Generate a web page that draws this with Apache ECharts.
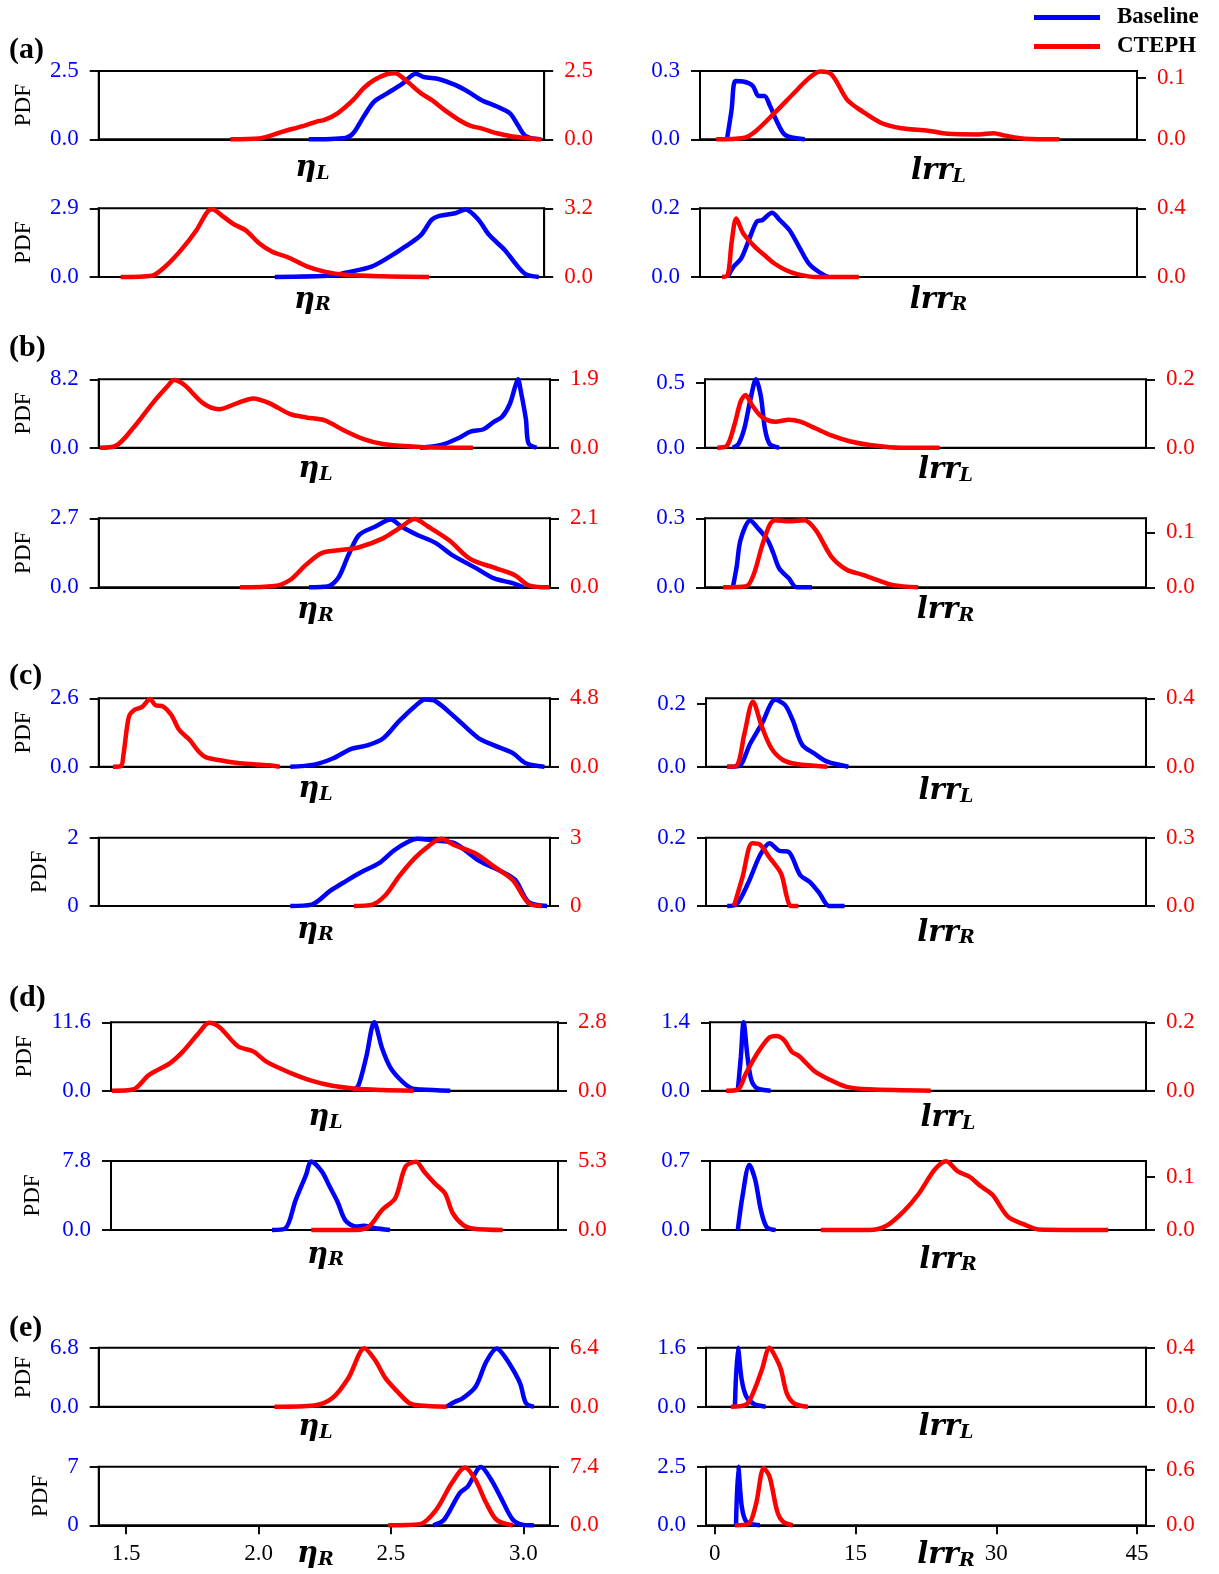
<!DOCTYPE html>
<html><head><meta charset="utf-8">
<script src="https://cdn.jsdelivr.net/npm/echarts@6/dist/echarts.min.js"></script>
<style>html,body{margin:0;padding:0;background:#fff}#chart{width:1219px;height:1574px}</style>
</head><body><div id="chart"></div>
<script>
// ---------------- DATA ----------------
const groupLabels = ['(a)', '(b)', '(c)', '(d)', '(e)'];
const seriesNames = ['Baseline', 'CTEPH'];
const etaTicks = [1.5, 2.0, 2.5, 3.0];
const lrrTicks = [0, 15, 30, 45];
const etaRange = [1.396, 3.101];
const lrrRange = [-0.94, 45.95];

// group (a)
const etaL_a_base = [[2.20,0],[2.34,0.05],[2.37,0.22],[2.41,0.83],[2.45,1.38],[2.50,1.68],[2.56,2.05],[2.61,2.4],[2.64,2.28],[2.70,2.2],[2.76,1.99],[2.81,1.74],[2.86,1.44],[2.92,1.2],[2.97,0.95],[3.00,0.52],[3.03,0.12],[3.08,0]];
const etaL_a_cteph = [[1.90,0],[2.01,0.03],[2.10,0.28],[2.19,0.52],[2.23,0.65],[2.26,0.71],[2.31,0.95],[2.37,1.44],[2.41,1.87],[2.45,2.17],[2.50,2.39],[2.53,2.42],[2.57,2.17],[2.63,1.68],[2.67,1.44],[2.72,1.07],[2.78,0.68],[2.82,0.49],[2.86,0.40],[2.92,0.22],[2.98,0.10],[3.04,0.04],[3.09,0]];
const etaR_a_base = [[2.07,0],[2.29,0.06],[2.34,0.18],[2.44,0.44],[2.51,0.86],[2.57,1.29],[2.63,1.78],[2.67,2.41],[2.70,2.58],[2.76,2.69],[2.80,2.85],[2.85,2.41],[2.89,1.78],[2.95,1.14],[2.99,0.58],[3.03,0.12],[3.08,0]];
const etaR_a_cteph = [[1.48,0],[1.60,0.06],[1.65,0.48],[1.71,1.24],[1.77,2.18],[1.81,3.0],[1.83,3.15],[1.87,2.84],[1.91,2.48],[1.96,2.16],[2.01,1.57],[2.06,1.18],[2.12,0.92],[2.19,0.51],[2.26,0.25],[2.34,0.10],[2.48,0.03],[2.66,0]];
const lrrL_a_base = [[1.95,0],[2.45,0.13],[2.86,0.256],[3.69,0.254],[4.72,0.235],[5.35,0.19],[5.97,0.19],[6.59,0.145],[7.41,0.07],[8.24,0.018],[10.3,0]];
const lrrL_a_cteph = [[0.8,0],[3.69,0.002],[4.93,0.012],[7.0,0.042],[9.07,0.074],[10.72,0.099],[11.96,0.11],[13.2,0.105],[14.86,0.064],[16.51,0.045],[18.58,0.026],[20.65,0.018],[23.54,0.014],[25.61,0.009],[28.92,0.008],[30.57,0.01],[31.81,0.006],[33.88,0.001],[37.6,0]];
const lrrR_a_base = [[2.04,0],[2.66,0.03],[3.48,0.054],[4.31,0.108],[5.14,0.161],[5.76,0.166],[6.79,0.187],[7.62,0.166],[8.65,0.137],[9.69,0.088],[10.72,0.04],[11.75,0.016],[12.79,0]];
const lrrR_a_cteph = [[1.42,0],[2.04,0.012],[2.45,0.2],[2.95,0.34],[3.69,0.255],[4.93,0.177],[6.17,0.118],[7.0,0.08],[8.24,0.041],[9.48,0.017],[11.55,0],[16.1,0]];
// group (b)
const etaL_b_base = [[2.61,0],[2.69,0.33],[2.76,1.23],[2.80,1.92],[2.85,2.21],[2.89,3.12],[2.92,3.7],[2.95,5.3],[2.97,7.4],[2.98,8.2],[2.99,6.9],[3.01,3.4],[3.02,0.5],[3.05,0]];
const etaL_b_cteph = [[1.40,0],[1.46,0.05],[1.53,0.58],[1.60,1.24],[1.66,1.74],[1.68,1.88],[1.72,1.74],[1.79,1.24],[1.85,1.07],[1.92,1.24],[1.98,1.37],[2.04,1.24],[2.12,0.93],[2.18,0.84],[2.25,0.76],[2.32,0.49],[2.40,0.23],[2.47,0.10],[2.61,0.02],[2.81,0]];
const etaR_b_base = [[2.19,0],[2.26,0.03],[2.30,0.35],[2.34,1.27],[2.38,2.05],[2.44,2.37],[2.50,2.65],[2.54,2.37],[2.60,2.05],[2.67,1.73],[2.73,1.27],[2.82,0.76],[2.89,0.35],[2.96,0.16],[3.00,0]];
const etaR_b_cteph = [[1.93,0],[2.06,0.04],[2.12,0.23],[2.18,0.69],[2.24,1.05],[2.32,1.14],[2.38,1.22],[2.47,1.49],[2.53,1.79],[2.59,2.08],[2.64,1.85],[2.72,1.43],[2.80,0.86],[2.90,0.57],[2.97,0.36],[3.02,0.06],[3.10,0]];
const lrrL_b_base = [[2.02,0],[2.63,0.03],[3.25,0.15],[3.86,0.36],[4.48,0.526],[5.01,0.39],[5.42,0.15],[5.92,0.03],[6.94,0]];
const lrrL_b_cteph = [[0.37,0],[1.4,0.006],[2.22,0.07],[2.84,0.134],[3.37,0.154],[4.07,0.124],[5.1,0.09],[6.53,0.076],[7.97,0.082],[9.2,0.076],[10.84,0.056],[12.49,0.036],[14.54,0.018],[16.59,0.008],[19.88,0],[24.0,0]];
const lrrR_b_base = [[2.02,0],[2.43,0.09],[2.84,0.206],[3.86,0.29],[4.69,0.257],[5.71,0.206],[6.33,0.148],[6.94,0.083],[7.97,0.039],[8.79,0],[10.43,0]];
const lrrR_b_cteph = [[0.99,0],[3.45,0.002],[4.27,0.025],[5.1,0.074],[5.92,0.113],[6.53,0.122],[7.97,0.12],[9.61,0.122],[10.84,0.104],[12.49,0.056],[14.13,0.032],[15.77,0.023],[17.41,0.013],[19.06,0.004],[21.72,0]];
// group (c)
const etaL_c_base = [[2.12,0],[2.21,0.08],[2.28,0.31],[2.35,0.68],[2.41,0.81],[2.47,1.07],[2.53,1.72],[2.59,2.29],[2.63,2.55],[2.67,2.48],[2.74,1.9],[2.83,1.09],[2.89,0.81],[2.96,0.52],[3.01,0.13],[3.08,0]];
const etaL_c_cteph = [[1.45,0],[1.48,0.05],[1.49,0.9],[1.51,3.5],[1.53,3.98],[1.56,4.2],[1.59,4.75],[1.61,4.32],[1.64,4.22],[1.67,3.65],[1.70,2.59],[1.74,1.87],[1.77,1.15],[1.80,0.67],[1.86,0.43],[1.93,0.24],[2.04,0.1],[2.08,0]];
const etaR_c_base = [[2.12,0],[2.20,0.04],[2.27,0.44],[2.32,0.68],[2.38,0.96],[2.46,1.28],[2.51,1.62],[2.56,1.86],[2.60,1.97],[2.66,1.92],[2.74,1.84],[2.83,1.34],[2.92,1.0],[2.97,0.76],[3.02,0.12],[3.09,0]];
const etaR_c_cteph = [[2.36,0],[2.43,0.06],[2.48,0.48],[2.53,1.29],[2.59,2.1],[2.64,2.61],[2.69,2.95],[2.74,2.67],[2.82,2.31],[2.89,1.73],[2.96,1.14],[3.02,0.12],[3.07,0]];
const lrrL_c_base = [[1.32,0],[2.55,0.002],[3.78,0.074],[5.01,0.137],[6.44,0.213],[7.47,0.197],[8.29,0.149],[9.31,0.07],[10.55,0.043],[11.98,0.016],[14.24,0]];
const lrrL_c_cteph = [[1.32,0],[2.34,0.007],[3.16,0.195],[4.06,0.38],[5.01,0.234],[6.03,0.107],[7.26,0.039],[8.7,0.016],[11.98,0]];
const lrrR_c_base = [[1.32,0],[2.34,0.006],[3.57,0.068],[4.8,0.148],[5.83,0.184],[6.85,0.162],[7.88,0.158],[9.11,0.09],[10.14,0.07],[11.16,0.037],[12.19,0],[13.83,0]];
const lrrR_c_cteph = [[2.05,0],[2.96,0.128],[3.98,0.276],[4.8,0.27],[5.83,0.213],[7.06,0.142],[7.67,0.041],[8.08,0],[8.9,0]];
// group (d)
const etaL_d_base = [[2.32,0],[2.34,0.93],[2.37,5.8],[2.40,11.6],[2.43,7.19],[2.46,4.06],[2.50,1.86],[2.54,0.46],[2.58,0.2],[2.69,0]];
const etaL_d_cteph = [[1.40,0],[1.48,0.05],[1.54,0.64],[1.62,1.12],[1.67,1.6],[1.73,2.35],[1.77,2.78],[1.81,2.6],[1.88,1.82],[1.94,1.6],[1.99,1.18],[2.08,0.73],[2.16,0.41],[2.24,0.2],[2.33,0.08],[2.43,0.03],[2.55,0]];
const etaR_d_base = [[2.01,0],[2.06,0.15],[2.10,3.35],[2.14,6.24],[2.16,7.75],[2.20,6.63],[2.23,4.91],[2.26,3.2],[2.29,1.09],[2.33,0.39],[2.36,0.47],[2.40,0.23],[2.46,0]];
const etaR_d_cteph = [[2.16,0],[2.33,0],[2.38,0.27],[2.43,1.54],[2.48,2.44],[2.52,4.88],[2.56,5.25],[2.59,4.5],[2.63,3.6],[2.67,2.81],[2.70,1.27],[2.74,0.37],[2.78,0.1],[2.89,0]];
const lrrL_d_base = [[2.05,0],[2.38,0.7],[2.67,1.4],[3.09,0.7],[3.5,0.22],[4.12,0.05],[5.58,0]];
const lrrL_d_cteph = [[0.8,0],[2.05,0.003],[2.88,0.048],[4.12,0.108],[5.37,0.154],[6.2,0.16],[7.03,0.148],[7.86,0.114],[8.69,0.1],[10.35,0.056],[12.01,0.031],[13.67,0.012],[16.16,0.004],[22.8,0]];
const lrrR_d_base = [[2.05,0],[2.55,0.34],[3.29,0.66],[3.92,0.51],[4.54,0.2],[5.16,0.03],[6.11,0]];
const lrrR_d_cteph = [[10.97,0],[16.16,0],[18.03,0.008],[19.89,0.035],[21.55,0.069],[23.21,0.113],[24.46,0.129],[25.7,0.11],[26.95,0.1],[28.19,0.082],[29.44,0.066],[31.1,0.025],[32.76,0.011],[34.42,0.001],[41.89,0]];
// group (e)
const etaL_e_base = [[2.71,0],[2.74,0.54],[2.77,0.95],[2.82,2.31],[2.86,5.17],[2.90,6.7],[2.93,5.78],[2.97,3.81],[2.99,2.52],[3.01,0.41],[3.04,0]];
const etaL_e_cteph = [[2.06,0],[2.21,0.13],[2.28,0.96],[2.34,3.14],[2.40,6.35],[2.44,5.06],[2.48,3.07],[2.53,1.47],[2.57,0.38],[2.61,0.13],[2.71,0]];
const etaR_e_base = [[2.66,0],[2.70,0.63],[2.76,3.85],[2.79,4.62],[2.84,6.95],[2.88,5.39],[2.92,3.01],[2.96,0.7],[3.00,0.05],[3.04,0]];
const etaR_e_cteph = [[2.49,0],[2.61,0.15],[2.67,1.92],[2.73,5.33],[2.78,7.3],[2.82,5.7],[2.86,2.81],[2.90,0.67],[2.96,0]];
const lrrL_e_base = [[2.14,0],[2.46,1.6],[2.87,0.72],[3.37,0.27],[4.19,0.07],[5.42,0]];
const lrrL_e_cteph = [[1.73,0],[3.37,0.016],[4.19,0.11],[5.01,0.25],[5.83,0.4],[6.44,0.34],[7.06,0.25],[7.67,0.09],[8.5,0.02],[9.93,0]];
const lrrR_e_base = [[2.26,0],[2.5,2.5],[2.87,0.8],[3.37,0.15],[4.8,0]];
const lrrR_e_cteph = [[2.14,0],[3.57,0.013],[4.39,0.23],[5.21,0.62],[5.83,0.53],[6.65,0.15],[7.26,0.04],[8.29,0]];

// panel order per group: etaL, lrrL, etaR, lrrR
const panelSeries = [
  [etaL_a_base, etaL_a_cteph], [lrrL_a_base, lrrL_a_cteph], [etaR_a_base, etaR_a_cteph], [lrrR_a_base, lrrR_a_cteph],
  [etaL_b_base, etaL_b_cteph], [lrrL_b_base, lrrL_b_cteph], [etaR_b_base, etaR_b_cteph], [lrrR_b_base, lrrR_b_cteph],
  [etaL_c_base, etaL_c_cteph], [lrrL_c_base, lrrL_c_cteph], [etaR_c_base, etaR_c_cteph], [lrrR_c_base, lrrR_c_cteph],
  [etaL_d_base, etaL_d_cteph], [lrrL_d_base, lrrL_d_cteph], [etaR_d_base, etaR_d_cteph], [lrrR_d_base, lrrR_d_cteph],
  [etaL_e_base, etaL_e_cteph], [lrrL_e_base, lrrL_e_cteph], [etaR_e_base, etaR_e_cteph], [lrrR_e_base, lrrR_e_cteph]
];
// y-axis top values, tick values and label decimals (Baseline = left axis, CTEPH = right axis)
const baseYTop   = [2.5, 0.3, 2.9, 0.2, 8.2, 0.526, 2.7, 0.3, 2.6, 0.218, 2, 0.2, 11.6, 1.4, 7.8, 0.7, 6.8, 1.6, 7, 2.5];
const baseYTick  = [2.5, 0.3, 2.9, 0.2, 8.2, 0.5,   2.7, 0.3, 2.6, 0.2,   2, 0.2, 11.6, 1.4, 7.8, 0.7, 6.8, 1.6, 7, 2.5];
const baseYDec   = [1,1,1,1, 1,1,1,1, 1,1,0,1, 1,1,1,1, 1,1,0,1];
const ctephYTop  = [2.5, 0.111, 3.2, 0.4, 1.9, 0.2, 2.1, 0.1255, 4.8, 0.4, 3, 0.3, 2.8, 0.2, 5.3, 0.1295, 6.4, 0.4, 7.4, 0.636];
const ctephYTick = [2.5, 0.1,   3.2, 0.4, 1.9, 0.2, 2.1, 0.1,    4.8, 0.4, 3, 0.3, 2.8, 0.2, 5.3, 0.1,    6.4, 0.4, 7.4, 0.6];
const ctephYDec  = [1,1,1,1, 1,1,1,1, 1,1,0,1, 1,1,1,1, 1,1,1,1];
const xNameMain = ['η', 'lrr', 'η', 'lrr'];
const xNameSub  = ['L', 'L', 'R', 'R'];

// ---------------- LAYOUT ----------------
const colX = [ // per group: [leftColLeft, leftColWidth, rightColLeft, rightColWidth]
  [98.7, 445.5, 700, 437],
  [98.7, 451.3, 705, 441],
  [98.7, 451.3, 706, 440],
  [111, 447, 710, 436],
  [98.7, 451.3, 706, 440]
];
const rowY = [ // per group: [topRowTop, topRowH, bottomRowTop, bottomRowH]
  [71, 68.3, 208.3, 68.7],
  [379.3, 68.4, 518.3, 69],
  [698.3, 68.4, 837.7, 68.3],
  [1022.3, 68.4, 1161, 69],
  [1347.7, 59, 1466.7, 58.6]
];
const xNameGap = [[14.5,17,8,8],[6.5,8,8.5,8.5],[8,9.5,9,12],[12,13,10,15],[5.5,6,14.5,15.5]];
const pdfGap = [[63,63],[63,63],[63,47],[75,67],[63,46]];
const labelCenters = [51, 349, 677, 999, 1329];

const BLUE = '#0000ff', RED = '#ff0000';
const SERIF = "'Liberation Serif', 'Times New Roman', serif";
const MATH = "'DejaVu Serif', serif";

const grids = [], xAxes = [], yAxes = [], series = [];
panelSeries.forEach((pair, p) => {
  const g = Math.floor(p / 4), k = p % 4, col = k % 2, row = Math.floor(k / 2);
  const isEta = col === 0;
  const isBottom = g === 4 && row === 1;
  grids.push({
    left: colX[g][col * 2], width: colX[g][col * 2 + 1],
    top: rowY[g][row * 2], height: rowY[g][row * 2 + 1],
    show: true, borderColor: '#000', borderWidth: 1.9, containLabel: false, outerBoundsMode: 'none'
  });
  const ticks = isEta ? etaTicks : lrrTicks;
  const rng = isEta ? etaRange : lrrRange;
  xAxes.push({
    type: 'value', gridIndex: p, min: rng[0], max: rng[1],
    axisLine: { show: true, onZero: false, lineStyle: { color: '#000', width: 1.9 } },
    axisTick: { show: isBottom, customValues: ticks, length: 9, lineStyle: { color: '#000', width: 1.9 } },
    axisLabel: { show: isBottom, customValues: ticks, margin: 17, color: '#000', fontFamily: SERIF, fontSize: 23,
      formatter: v => isEta ? v.toFixed(1) : String(v) },
    splitLine: { show: false },
    name: '{m|' + xNameMain[k] + '}{s|' + xNameSub[k] + '}',
    nameLocation: 'middle', nameGap: xNameGap[g][k], nameMoveOverlap: false,
    nameTextStyle: {
      padding: isEta ? [0, 18, 0, 0] : [0, 0, 0, 40],
      rich: {
        m: { fontFamily: MATH, fontWeight: 'bold', fontStyle: 'italic', fontSize: 29, lineHeight: 30, color: '#000' },
        s: { fontFamily: MATH, fontWeight: 'bold', fontStyle: 'italic', fontSize: 19, lineHeight: 12, verticalAlign: 'bottom', color: '#000' }
      }
    }
  });
  const mkY = (pos, top, tick, dec, color, name, gap) => ({
    type: 'value', gridIndex: p, position: pos, min: 0, max: top,
    axisLine: { show: true, onZero: false, lineStyle: { color: '#000', width: 1.9 } },
    axisTick: { show: true, customValues: [0, tick], length: 9, lineStyle: { color: '#000', width: 1.9 } },
    axisLabel: { show: true, customValues: [0, tick], margin: 20, color: color, fontFamily: SERIF, fontSize: 23,
      formatter: v => Number(v).toFixed(dec) },
    splitLine: { show: false },
    name: name, nameLocation: 'middle', nameGap: gap, nameMoveOverlap: false,
    nameTextStyle: { fontFamily: SERIF, fontSize: 23, color: '#000' }
  });
  yAxes.push(mkY('left', baseYTop[p], baseYTick[p], baseYDec[p], BLUE, isEta ? 'PDF' : '', isEta ? pdfGap[g][row] : 0));
  yAxes.push(mkY('right', ctephYTop[p], ctephYTick[p], ctephYDec[p], RED, '', 0));
  [BLUE, RED].forEach((c, s) => {
    series.push({
      type: 'line', name: seriesNames[s], xAxisIndex: p, yAxisIndex: 2 * p + s,
      data: pair[s], showSymbol: false, symbol: 'none', smooth: 0.3, clip: false, silent: true,
      lineStyle: { color: c, width: 4.5 }, itemStyle: { color: c }, z: 3 + s
    });
  });
});

const chart = echarts.init(document.getElementById('chart'), null, { renderer: 'canvas' });
chart.setOption({
  animation: false,
  backgroundColor: '#fff',
  grid: grids, xAxis: xAxes, yAxis: yAxes, series: series,
  legend: {
    data: seriesNames, left: 1029, top: 1, orient: 'vertical', icon: 'rect',
    itemWidth: 66, itemHeight: 5, itemGap: 6, selectedMode: false,
    textStyle: { fontFamily: SERIF, fontWeight: 'bold', fontSize: 23, color: '#000', padding: [0, 0, 0, 12] }
  },
  graphic: groupLabels.map((t, g) => ({
    type: 'text', left: 9, top: labelCenters[g] - 16,
    style: { text: t, font: "bold 30px 'Liberation Serif'", fill: '#000' }
  }))
});
</script>
</body></html>
